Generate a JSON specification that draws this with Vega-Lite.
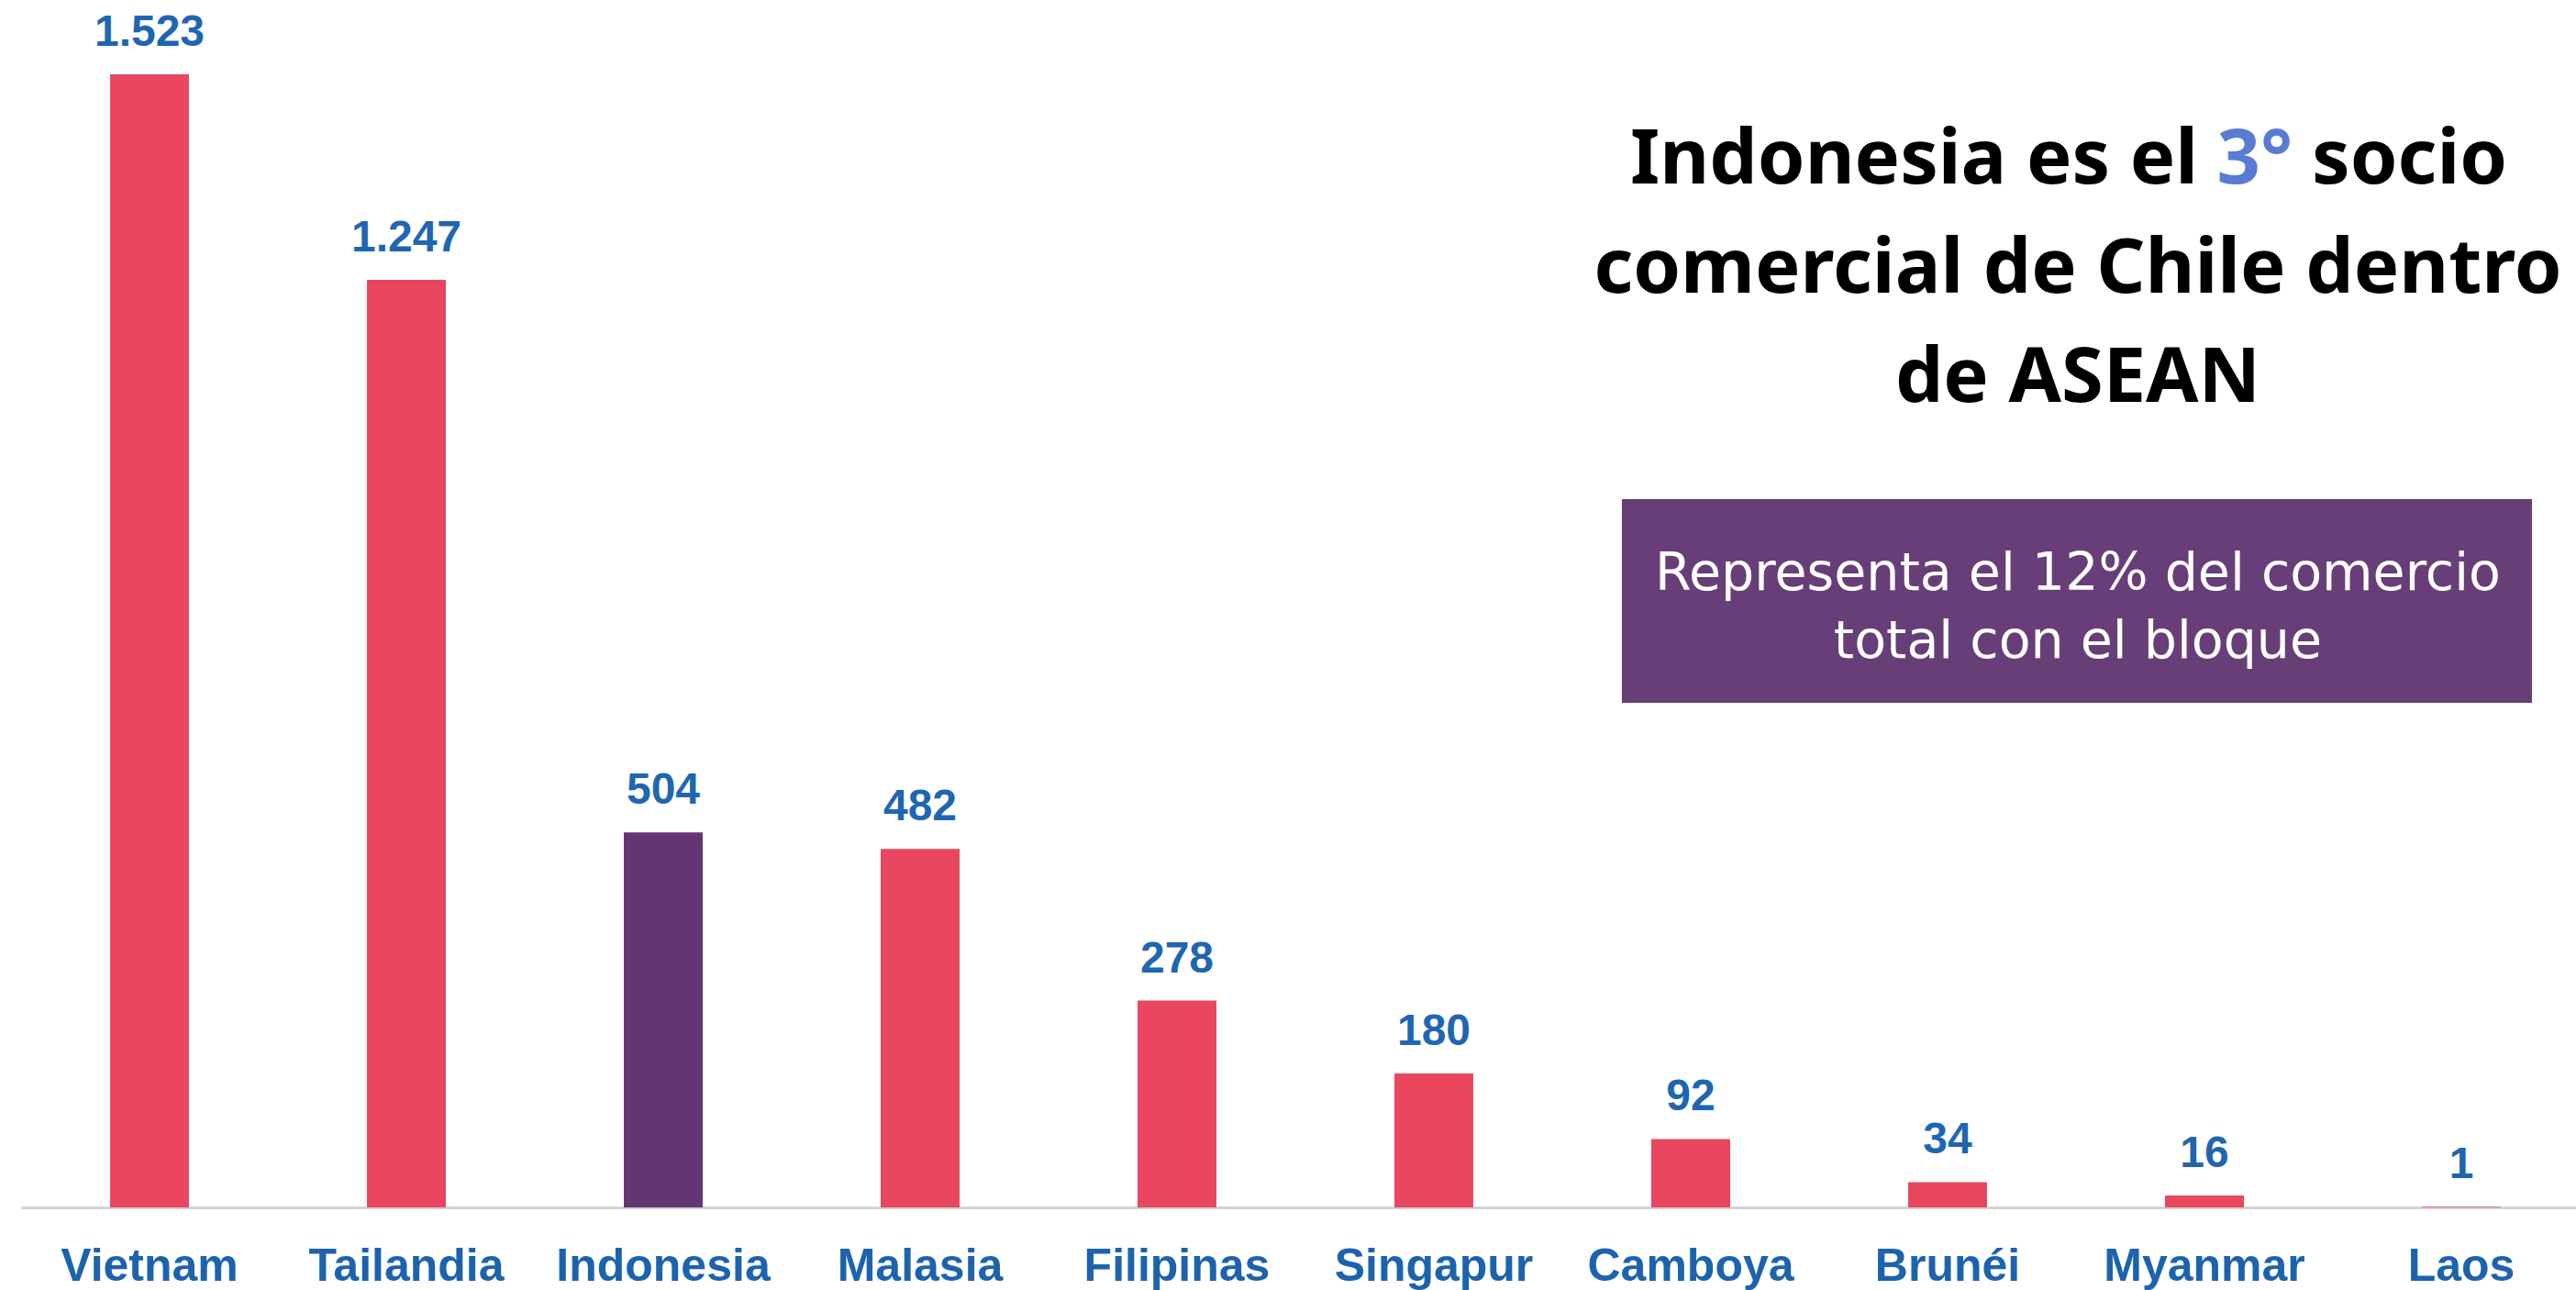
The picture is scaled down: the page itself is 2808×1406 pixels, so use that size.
{
  "$schema": "https://vega.github.io/schema/vega-lite/v6.json",
  "width": 2808,
  "height": 1316,
  "autosize": {"type": "none"},
  "padding": {"left": 0, "top": 0, "right": 0, "bottom": 90},
  "background": "white",
  "config": {
    "view": {"stroke": null},
    "locale": {"number": {"decimal": ",", "thousands": ".", "grouping": [3], "currency": ["$", ""]}}
  },
  "resolve": {"scale": {"x": "independent"}, "axis": {"x": "independent"}},
  "layer": [
    {
      "data": {"values": [
        {"pais": "Vietnam", "valor": 1523},
        {"pais": "Tailandia", "valor": 1247},
        {"pais": "Indonesia", "valor": 504},
        {"pais": "Malasia", "valor": 482},
        {"pais": "Filipinas", "valor": 278},
        {"pais": "Singapur", "valor": 180},
        {"pais": "Camboya", "valor": 92},
        {"pais": "Brunéi", "valor": 34},
        {"pais": "Myanmar", "valor": 16},
        {"pais": "Laos", "valor": 1}
      ]},
      "encoding": {
        "x": {"field": "pais", "type": "nominal", "sort": null,
          "scale": {"range": [23, 2823], "paddingInner": 0.693, "paddingOuter": 0.3465},
          "axis": {"title": null, "labelAngle": 0, "ticks": false, "grid": false,
            "domainColor": "#d3d3d3", "domainWidth": 3,
            "labelFont": "Liberation Sans", "labelFontWeight": "bold", "labelFontSize": 50,
            "labelColor": "#1c63ae", "labelPadding": 39, "labelOverlap": false, "labelLimit": 0}},
        "y": {"field": "valor", "type": "quantitative", "scale": {"domain": [0, 1623], "nice": false, "zero": true}, "axis": null}
      },
      "layer": [
        {
          "mark": {"type": "bar"},
          "encoding": {
            "color": {"condition": {"test": "datum.pais === 'Indonesia'", "value": "#633673"}, "value": "#e8475f"}
          }
        },
        {
          "mark": {"type": "text", "baseline": "alphabetic", "align": "center", "dy": -31,
            "font": "Liberation Sans", "fontWeight": "bold", "fontSize": 48, "color": "#1f66b1"},
          "encoding": {
            "text": {"field": "valor", "type": "quantitative", "format": ",d"}
          }
        }
      ]
    },
    {
      "data": {"values": [{}]},
      "layer": [
        {
          "mark": {"type": "rect", "color": "#673e78"},
          "encoding": {
            "x": {"datum": 6.232, "type": "quantitative", "scale": {"domain": [0, 10], "range": [23, 2823], "nice": false, "zero": false}, "axis": null},
            "x2": {"datum": 9.775},
            "y": {"datum": 952.1, "type": "quantitative", "axis": null},
            "y2": {"datum": 678.3}
          }
        },
        {
          "mark": {"type": "text", "text": "Indonesia es el", "align": "right", "baseline": "alphabetic",
            "font": "Noto Sans", "fontWeight": "bold", "fontSize": 83, "color": "#000000"},
          "encoding": {
            "x": {"datum": 8.475, "type": "quantitative", "axis": null},
            "y": {"datum": 1376, "type": "quantitative", "axis": null}
          }
        },
        {
          "mark": {"type": "text", "text": "3°", "align": "center", "baseline": "alphabetic",
            "font": "Noto Sans", "fontWeight": "bold", "fontSize": 83, "color": "#5a7bd4"},
          "encoding": {
            "x": {"datum": 8.696, "type": "quantitative", "axis": null},
            "y": {"datum": 1376, "type": "quantitative", "axis": null}
          }
        },
        {
          "mark": {"type": "text", "text": "socio", "align": "left", "baseline": "alphabetic",
            "font": "Noto Sans", "fontWeight": "bold", "fontSize": 83, "color": "#000000"},
          "encoding": {
            "x": {"datum": 8.918, "type": "quantitative", "axis": null},
            "y": {"datum": 1376, "type": "quantitative", "axis": null}
          }
        },
        {
          "mark": {"type": "text", "text": ["comercial de Chile dentro", "de ASEAN"], "lineHeight": 119,
            "align": "center", "baseline": "alphabetic",
            "font": "Noto Sans", "fontWeight": "bold", "fontSize": 83, "color": "#000000"},
          "encoding": {
            "x": {"datum": 8.007, "type": "quantitative", "axis": null},
            "y": {"datum": 1229.6, "type": "quantitative", "axis": null}
          }
        },
        {
          "mark": {"type": "text", "text": ["Representa el 12% del comercio", "total con el bloque"], "lineHeight": 74,
            "align": "center", "baseline": "alphabetic",
            "font": "DejaVu Sans", "fontSize": 57, "color": "#ffffff"},
          "encoding": {
            "x": {"datum": 8.007, "type": "quantitative", "axis": null},
            "y": {"datum": 830.0, "type": "quantitative", "axis": null}
          }
        }
      ]
    }
  ]
}
